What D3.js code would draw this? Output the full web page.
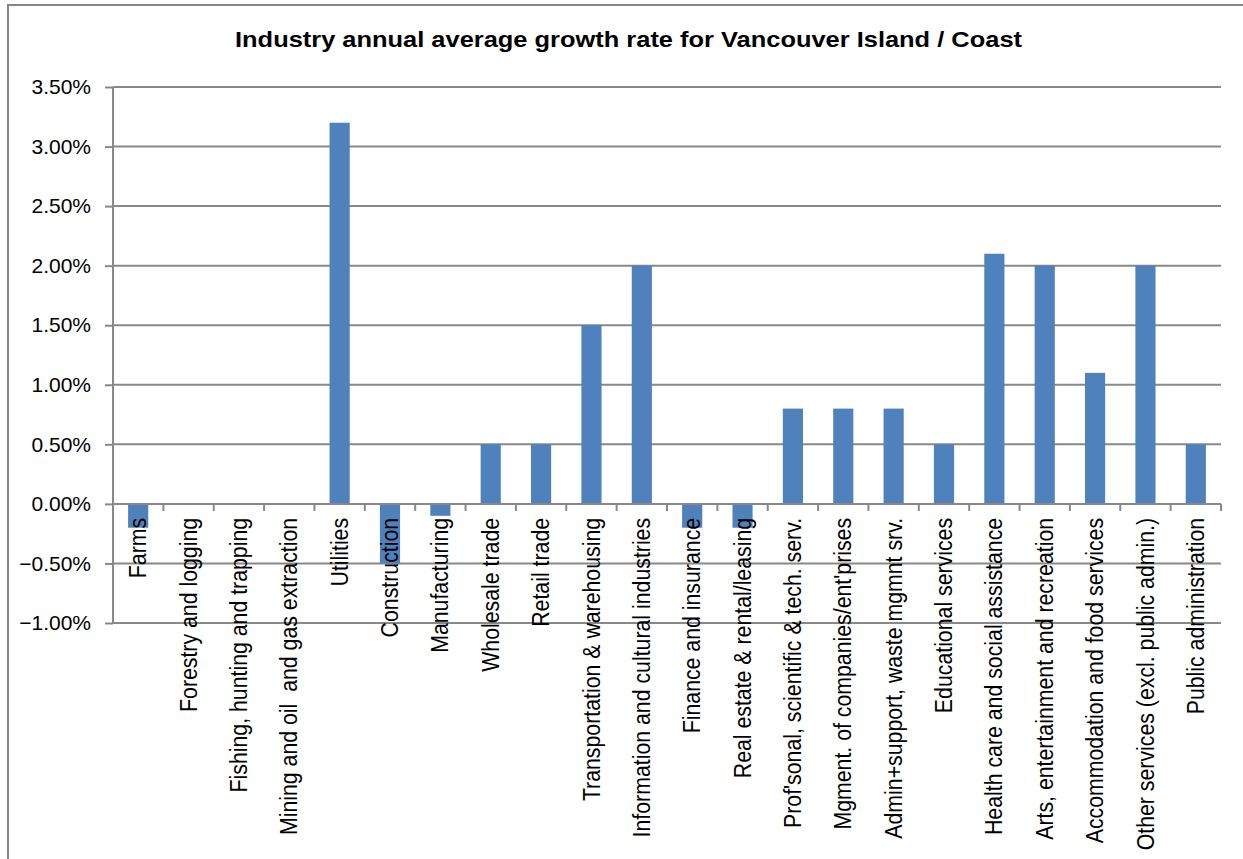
<!DOCTYPE html>
<html>
<head>
<meta charset="utf-8">
<script src="https://cdn.jsdelivr.net/npm/d3@7"></script>
<style>
  html, body { margin: 0; padding: 0; background: #fff; }
  svg { display: block; font-family: "Liberation Sans", Arial, sans-serif; }
</style>
</head>
<body>
<svg id="chart" width="1243" height="859"></svg>
<script>
// Industries (x categories)
const categories = [
  "Farms",
  "Forestry and logging",
  "Fishing, hunting and trapping",
  "Mining and oil  and gas extraction",
  "Utilities",
  "Construction",
  "Manufacturing",
  "Wholesale trade",
  "Retail trade",
  "Transportation & warehousing",
  "Information and cultural industries",
  "Finance and insurance",
  "Real estate & rental/leasing",
  "Prof'sonal, scientific & tech. serv.",
  "Mgment. of companies/ent'prises",
  "Admin+support, waste mgmnt srv.",
  "Educational services",
  "Health care and social assistance",
  "Arts, entertainment and recreation",
  "Accommodation and food services",
  "Other services (excl. public admin.)",
  "Public administration"
];

// Annual average growth rate (fraction)
const growth = [
  -0.002, 0, 0, 0, 0.032, -0.005, -0.001, 0.005, 0.005, 0.015, 0.020,
  -0.002, -0.002, 0.008, 0.008, 0.008, 0.005, 0.021, 0.020, 0.011, 0.020, 0.005
];

// Value-axis ticks
const yTicks = [-0.01, -0.005, 0, 0.005, 0.01, 0.015, 0.02, 0.025, 0.03, 0.035];

const title = "Industry annual average growth rate for Vancouver Island / Coast";

const svg = d3.select("#chart");
const W = 1243, H = 859;
const plot = { left: 113, right: 1221, top: 87, bottom: 623 };
const gridColor = "#888888";
const barColor = "#4F81BD";

// outer chart frame
svg.append("rect")
  .attr("x", 8).attr("y", 5)
  .attr("width", W + 20).attr("height", H + 20)
  .attr("fill", "#fff")
  .attr("stroke", "#868686").attr("stroke-width", 2);

const x = d3.scaleBand()
  .domain(categories)
  .range([plot.left, plot.right])
  .paddingInner(0.6)
  .paddingOuter(0.3);

const y = d3.scaleLinear()
  .domain([-0.01, 0.035])
  .range([plot.bottom, plot.top]);

// title
svg.append("text")
  .attr("x", 235).attr("y", 47)
  .attr("text-anchor", "start")
  .attr("font-size", 22)
  .attr("font-weight", "bold")
  .attr("fill", "#000")
  .attr("textLength", 787)
  .attr("lengthAdjust", "spacingAndGlyphs")
  .text(title);

// horizontal gridlines + value axis
const yAxis = d3.axisLeft(y)
  .tickValues(yTicks)
  .tickFormat(d3.format(".2%"))
  .tickSize(8)
  .tickPadding(14);

const yg = svg.append("g")
  .attr("transform", `translate(${plot.left},0)`)
  .call(yAxis);
yg.select(".domain").attr("stroke", gridColor).attr("stroke-width", 2)
  .attr("d", `M0,${plot.top}V${plot.bottom}`);
yg.selectAll(".tick line").attr("stroke", gridColor).attr("stroke-width", 2);
yg.selectAll(".tick text")
  .attr("font-size", 21)
  .attr("fill", "#000")
  .attr("font-family", "Liberation Sans, Arial, sans-serif");

svg.append("g")
  .selectAll("line")
  .data(yTicks.filter(t => t !== 0))
  .join("line")
  .attr("x1", plot.left).attr("x2", plot.right)
  .attr("y1", d => y(d)).attr("y2", d => y(d))
  .attr("stroke", gridColor).attr("stroke-width", 2);

// bars
svg.append("g")
  .selectAll("rect")
  .data(categories.map((c, i) => ({ c, v: growth[i] })))
  .join("rect")
  .attr("x", d => x(d.c))
  .attr("width", x.bandwidth())
  .attr("y", d => Math.min(y(d.v), y(0)))
  .attr("height", d => Math.abs(y(d.v) - y(0)))
  .attr("fill", barColor);

// category axis along the zero line
const step = x.step();
const boundaries = d3.range(categories.length + 1).map(i => plot.left + i * step);
const xg = svg.append("g");
xg.append("line")
  .attr("x1", plot.left).attr("x2", plot.right)
  .attr("y1", y(0)).attr("y2", y(0))
  .attr("stroke", gridColor).attr("stroke-width", 2);
xg.selectAll("line.tick")
  .data(boundaries)
  .join("line")
  .attr("class", "tick")
  .attr("x1", d => d).attr("x2", d => d)
  .attr("y1", y(0)).attr("y2", y(0) + 7)
  .attr("stroke", gridColor).attr("stroke-width", 2);

// rotated category labels
xg.selectAll("text")
  .data(categories)
  .join("text")
  .attr("transform", d => `translate(${x(d) + x.bandwidth() / 2},${y(0) + 14}) scale(1.08,1) rotate(-90)`)
  .attr("text-anchor", "end")
  .attr("dy", "0.35em")
  .attr("font-size", 21.3)
  .attr("fill", "#000")
  .style("white-space", "pre")
  .text(d => d);
</script>
</body>
</html>
